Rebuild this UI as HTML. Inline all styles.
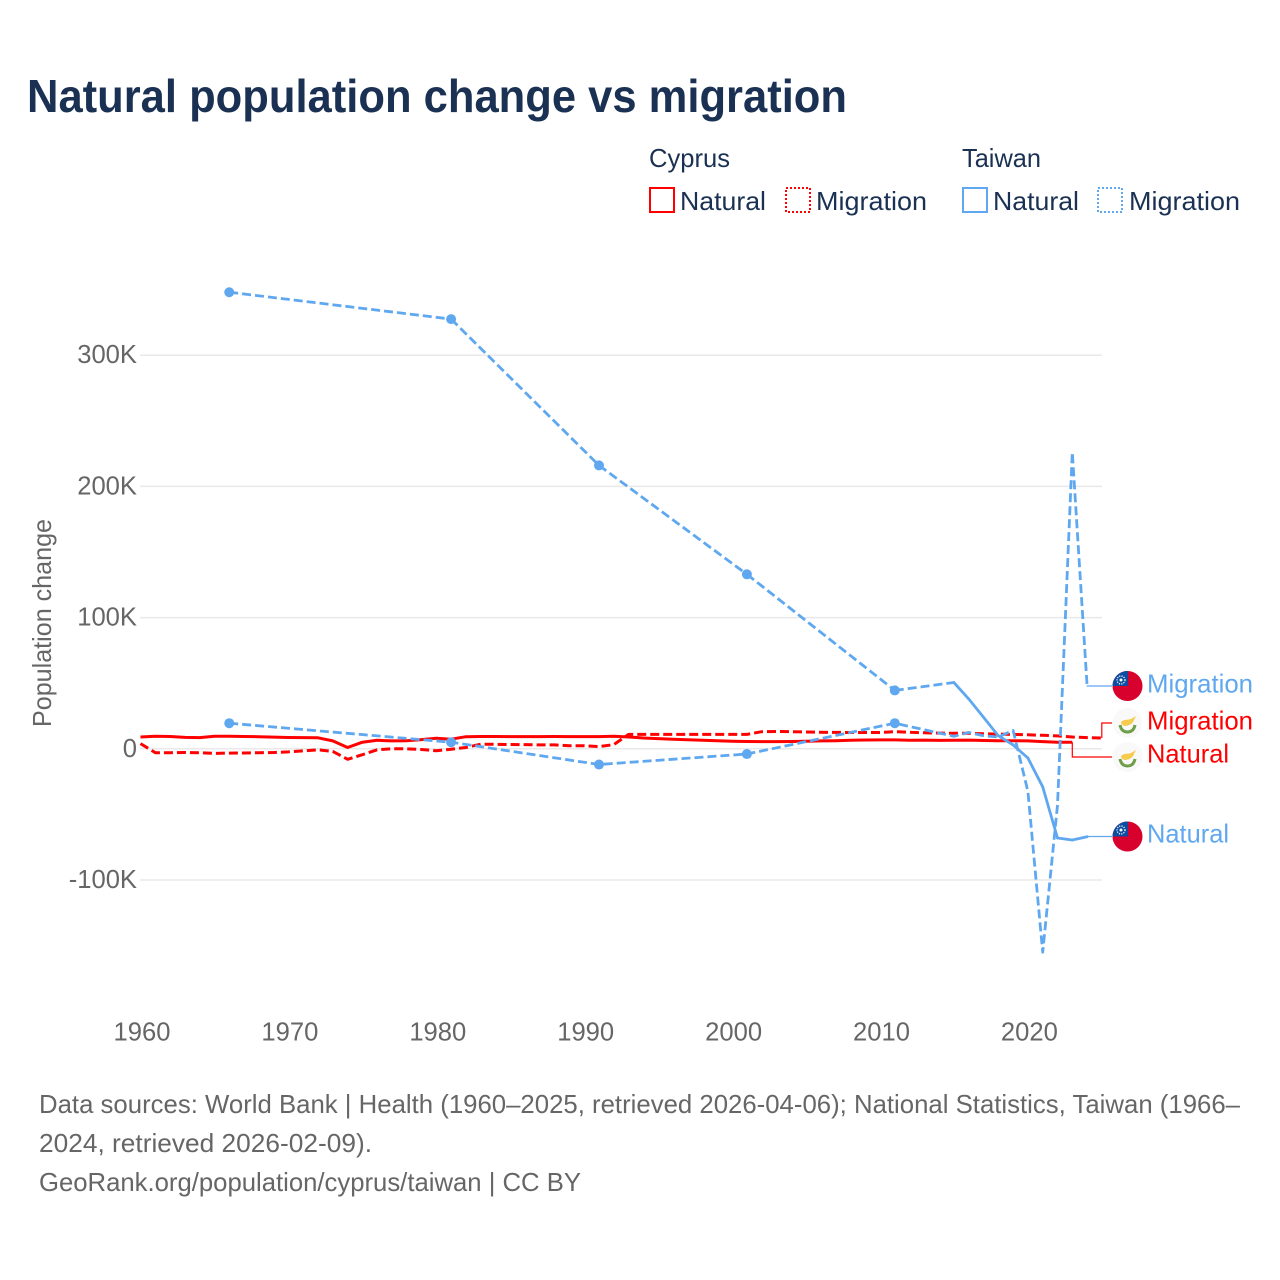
<!DOCTYPE html>
<html lang="en">
<head>
<meta charset="utf-8">
<title>Natural population change vs migration</title>
<style>
html,body{margin:0;padding:0;background:#fff;}
svg{display:block;font-family:"Liberation Sans",sans-serif;}
</style>
</head>
<body>
<svg id="chart" xmlns="http://www.w3.org/2000/svg" width="1280" height="1280" viewBox="0 0 1280 1280">
  <defs>
    <clipPath id="flag-clip-a"><circle cx="1127.5" cy="686" r="15"/></clipPath>
    <clipPath id="flag-clip-b"><circle cx="1127.5" cy="836.5" r="15"/></clipPath>
  </defs>
  <rect width="1280" height="1280" fill="#fff"/>
  <text x="27" y="112" font-size="46" font-weight="700" fill="#1a3153" textLength="820" lengthAdjust="spacingAndGlyphs">Natural population change vs migration</text>

  <g font-size="26" fill="#1a3153">
    <text x="649" y="167" textLength="81" lengthAdjust="spacingAndGlyphs">Cyprus</text>
    <text x="962" y="167" textLength="79" lengthAdjust="spacingAndGlyphs">Taiwan</text>
    <rect x="650" y="188" width="24" height="24" fill="none" stroke="#ff0000" stroke-width="2"/>
    <text x="680" y="210" textLength="86" lengthAdjust="spacingAndGlyphs">Natural</text>
    <rect x="786" y="188" width="24" height="24" fill="none" stroke="#ff0000" stroke-width="2" stroke-dasharray="2 2"/>
    <text x="816" y="210" textLength="111" lengthAdjust="spacingAndGlyphs">Migration</text>
    <rect x="963" y="188" width="24" height="24" fill="none" stroke="#5fa8f0" stroke-width="2"/>
    <text x="993" y="210" textLength="86" lengthAdjust="spacingAndGlyphs">Natural</text>
    <rect x="1098" y="188" width="24" height="24" fill="none" stroke="#5fa8f0" stroke-width="2" stroke-dasharray="2 2"/>
    <text x="1129" y="210" textLength="111" lengthAdjust="spacingAndGlyphs">Migration</text>
  </g>

  <g id="grid"></g>
  <g id="y-ticks"></g>
  <g id="x-ticks"></g>
  <text transform="translate(51,727) rotate(-90)" font-size="26" fill="#666666" textLength="208" lengthAdjust="spacingAndGlyphs">Population change</text>
  <g id="series"></g>

  <g font-size="26">
    <g>
      <g clip-path="url(#flag-clip-a)">
        <rect x="1112" y="671" width="32" height="31" fill="#d8002c"/>
        <rect x="1112" y="671" width="16" height="15" fill="#0d4da1"/>
        <circle cx="1121" cy="680" r="4" fill="none" stroke="#fff" stroke-width="1.2" stroke-dasharray="1.2 1.2"/>
        <circle cx="1121" cy="680" r="1.5" fill="#fff"/>
      </g>
      <text x="1147" y="692.5" fill="#5fa8f0" textLength="106" lengthAdjust="spacingAndGlyphs">Migration</text>
    </g>
    <g>
      <circle cx="1127.5" cy="723" r="15" fill="#f9f9f9"/>
      <path d="M1121 722 C1124 719 1129 720 1131 719 L1136 716 L1134 720 C1133 724 1128 726 1125 726 C1123 726 1121 724 1121 722 Z" fill="#f7cb4d"/>
      <path d="M1120 725 C1121 730 1124 732 1127.5 732 C1131 732 1134 730 1135 725" fill="none" stroke="#6f9e48" stroke-width="3"/>
      <text x="1147" y="729.5" fill="#ff0000" textLength="106" lengthAdjust="spacingAndGlyphs">Migration</text>
    </g>
    <g>
      <circle cx="1127.5" cy="757" r="15" fill="#f9f9f9"/>
      <path d="M1121 756 C1124 753 1129 754 1131 753 L1136 750 L1134 754 C1133 758 1128 760 1125 760 C1123 760 1121 758 1121 756 Z" fill="#f7cb4d"/>
      <path d="M1120 759 C1121 764 1124 766 1127.5 766 C1131 766 1134 764 1135 759" fill="none" stroke="#6f9e48" stroke-width="3"/>
      <text x="1147" y="762.5" fill="#ff0000" textLength="82" lengthAdjust="spacingAndGlyphs">Natural</text>
    </g>
    <g>
      <g clip-path="url(#flag-clip-b)">
        <rect x="1112" y="821" width="32" height="31" fill="#d8002c"/>
        <rect x="1112" y="821" width="16" height="15.5" fill="#0d4da1"/>
        <circle cx="1121" cy="830" r="4" fill="none" stroke="#fff" stroke-width="1.2" stroke-dasharray="1.2 1.2"/>
        <circle cx="1121" cy="830" r="1.5" fill="#fff"/>
      </g>
      <text x="1147" y="842.5" fill="#5fa8f0" textLength="82" lengthAdjust="spacingAndGlyphs">Natural</text>
    </g>
  </g>

  <g font-size="26" fill="#666666">
    <text x="39" y="1113" textLength="1201" lengthAdjust="spacingAndGlyphs">Data sources: World Bank | Health (1960–2025, retrieved 2026-04-06); National Statistics, Taiwan (1966–</text>
    <text x="39" y="1152" textLength="333" lengthAdjust="spacingAndGlyphs">2024, retrieved 2026-02-09).</text>
    <text x="39" y="1191" textLength="542" lengthAdjust="spacingAndGlyphs">GeoRank.org/population/cyprus/taiwan | CC BY</text>
  </g>
</svg>
<script>
var yTickValues = [300, 200, 100, 0, -100];
var yTickLabels = ["300K", "200K", "100K", "0", "-100K"];
var xTickYears = [1960, 1970, 1980, 1990, 2000, 2010, 2020];

var cyprusNaturalStart = 1960;
var cyprusNatural = [
  9, 9.6, 9.4, 8.7, 8.5, 9.5, 9.5, 9.4, 9.2, 8.9,
  8.6, 8.5, 8.4, 6, 1, 5, 6.5, 6, 6.2, 7,
  8, 7.3, 9.2, 9.4, 9.4, 9.3, 9.3, 9.3, 9.4, 9.3,
  9.3, 9.3, 9.5, 9, 8.2, 7.8, 7.3, 6.9, 6.5, 6.2,
  5.8, 5.6, 5.5, 5.5, 5.6, 5.8, 6, 6.2, 6.5, 6.7,
  6.8, 6.8, 6.5, 6.6, 6.4, 6.5, 6.6, 6.3, 6.2, 6.2,
  6, 5.5, 5, 5
];
var cyprusMigrationStart = 1960;
var cyprusMigration = [
  4, -3, -3, -2.8, -3, -3.5, -3.3, -3.2, -3, -2.8,
  -2.4, -1.6, -0.8, -2, -8, -4.5, -0.8, 0, 0, -0.5,
  -1.5, -0.3, 1, 3.5, 3.4, 3.3, 3.2, 3, 3, 2.4,
  2.4, 1.7, 3.2, 11, 11, 11, 11, 11, 11, 11,
  11, 11, 13, 13.2, 13, 12.8, 12.6, 12.5, 12.4, 12.4,
  12.4, 13, 12.6, 12.2, 12, 11.8, 11.8, 11.5, 11.2, 11,
  10.7, 10.3, 9.8, 9, 8.5, 8.2
];
var taiwanYears = [1966, 1981, 1991, 2001, 2011, 2015, 2016, 2017, 2018, 2019, 2020, 2021, 2022, 2023, 2024];
var taiwanNatural = [348, 327.5, 216, 133, 44.5, 50.5, 38, 24, 10, 3, -7, -29, -68, -69.5, -67];
var taiwanMigration = [19.5, 5, -12, -4, 19.5, 9.5, 12.5, 10, 9, 14, -32.5, -155, -43, 226, 48];

var NS = "http://www.w3.org/2000/svg";
var RED = "#ff0000";
var BLUE = "#5fa8f0";
function xScale(year) { return 140.5 + (year - 1960) * 14.79; }
function yScale(k) { return 748.8 - k * 1.312; }
function make(tag, attrs, parent) {
  var el = document.createElementNS(NS, tag);
  for (var k in attrs) { el.setAttribute(k, attrs[k]); }
  parent.appendChild(el);
  return el;
}
function rangeYears(start, n) {
  var out = [];
  for (var i = 0; i < n; i++) { out.push(start + i); }
  return out;
}
function pathOf(years, vals) {
  var d = "";
  for (var i = 0; i < years.length; i++) {
    d += (i ? "L" : "M") + xScale(years[i]).toFixed(1) + " " + yScale(vals[i]).toFixed(1);
  }
  return d;
}

var gridG = document.getElementById("grid");
var yG = document.getElementById("y-ticks");
yTickValues.forEach(function (v, i) {
  var line = make("line", { x1: 140, x2: 1102, y1: yScale(v), y2: yScale(v), stroke: "#e9e9e9", "stroke-width": 1.5 }, gridG);
  
  
  var t = make("text", { x: 137, y: yScale(v) + 8, "text-anchor": "end", "font-size": 25.6, fill: "#666666" }, yG);
  
  
  t.textContent = yTickLabels[i];
});

var xG = document.getElementById("x-ticks");
xTickYears.forEach(function (yr) {
  var t = make("text", { x: xScale(yr) + 1.5, y: 1040.5, "text-anchor": "middle", "font-size": 25.6, fill: "#666666" }, xG);
  
  
  t.textContent = String(yr);
});

var seriesG = document.getElementById("series");

var leaderPoints = [
  [2023, cyprusNatural[cyprusNatural.length - 1], 757, RED],
  [2025, cyprusMigration[cyprusMigration.length - 1], 723, RED],
  [2024, taiwanMigration[taiwanMigration.length - 1], 686, BLUE],
  [2024, taiwanNatural[taiwanNatural.length - 1], 836.5, BLUE]
];
leaderPoints.forEach(function (p) {
  var x = xScale(p[0]), y = yScale(p[1]);
  var d = "M" + x.toFixed(1) + " " + y.toFixed(1) + "L" + x.toFixed(1) + " " + p[2] + "L1112 " + p[2];
  var leader = make("path", { d: d, fill: "none", stroke: p[3], "stroke-width": 1.2 }, seriesG);
  
  
});

var cyNat = make("path", { d: pathOf(rangeYears(cyprusNaturalStart, cyprusNatural.length), cyprusNatural), fill: "none", stroke: RED, "stroke-width": 3, "stroke-linejoin": "round" }, seriesG);



var cyMig = make("path", { d: pathOf(rangeYears(cyprusMigrationStart, cyprusMigration.length), cyprusMigration), fill: "none", stroke: RED, "stroke-width": 3, "stroke-dasharray": "9 4", "stroke-linejoin": "round" }, seriesG);



var twMig = make("path", { d: pathOf(taiwanYears, taiwanMigration), fill: "none", stroke: BLUE, "stroke-width": 2.8, "stroke-dasharray": "9 4", "stroke-linejoin": "round" }, seriesG);



for (var s = 0; s < taiwanYears.length - 1; s++) {
  var consecutive = taiwanYears[s + 1] - taiwanYears[s] === 1;
  var seg = make("path", {
    d: pathOf(taiwanYears.slice(s, s + 2), taiwanNatural.slice(s, s + 2)),
    fill: "none", stroke: BLUE, "stroke-width": 2.8, "stroke-linecap": consecutive ? "round" : "butt",
    "stroke-dasharray": consecutive ? "none" : "9 4"
  }, seriesG);
  
  
}

taiwanYears.forEach(function (yr, i) {
  var prev = i > 0 ? taiwanYears[i - 1] : -1;
  var next = i < taiwanYears.length - 1 ? taiwanYears[i + 1] : -1;
  if (yr - prev === 1 || next - yr === 1) { return; }
  var a = make("circle", { cx: xScale(yr), cy: yScale(taiwanNatural[i]), r: 5, fill: BLUE }, seriesG);
  
  
  var b = make("circle", { cx: xScale(yr), cy: yScale(taiwanMigration[i]), r: 5, fill: BLUE }, seriesG);
  
  
});
</script>
</body>
</html>
